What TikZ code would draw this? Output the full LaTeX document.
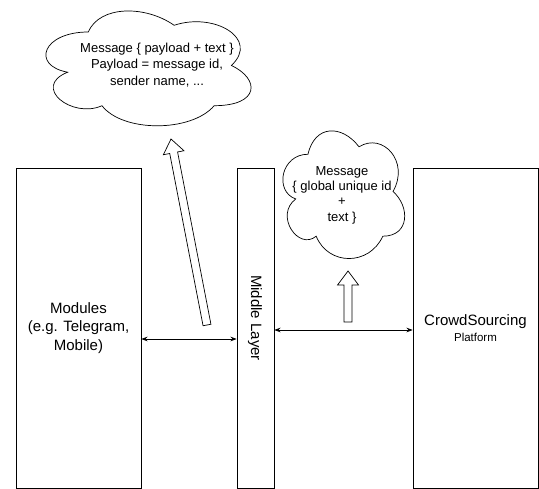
\documentclass[tikz,border=0pt]{standalone}
\usepackage{fontspec}
\setmainfont{Liberation Sans}
\usetikzlibrary{arrows.meta, calc}
\tikzset{
    layer/.style={draw, line width=0.8pt, minimum width=#1, minimum height=320pt, inner sep=0pt, align=center, font=\fontsize{15}{18.3}\selectfont},
    link/.style={Stealth-Stealth, line width=0.7pt},
    outline/.style={line width=0.7pt},
    note/.style={align=center, font=\fontsize{13}{16.5}\selectfont},
    cloudshape/.pic={
        \draw[outline] (0.25,0.25) .. controls (0.05,0.25) and (0,0.5) .. (0.16,0.55)
            .. controls (0,0.66) and (0.18,0.9) .. (0.31,0.8)
            .. controls (0.4,1) and (0.7,1) .. (0.8,0.8)
            .. controls (1,0.8) and (1,0.6) .. (0.875,0.5)
            .. controls (1,0.3) and (0.8,0.1) .. (0.625,0.2)
            .. controls (0.5,0.05) and (0.3,0.05) .. (0.25,0.25) -- cycle;
    }
}
% hollow block arrow from #1 to #2
\newcommand{\hollowarrow}[2]{%
    \coordinate (#1-hb) at ($(#2)!14pt!(#1)$);
    \draw[outline, fill=white] ($(#1)!4pt!90:(#2)$) -- ($(#1-hb)!4pt!90:(#2)$)
        -- ($(#1-hb)!10.5pt!90:(#2)$) -- (#2) -- ($(#1-hb)!10.5pt!-90:(#2)$)
        -- ($(#1-hb)!4pt!-90:(#2)$) -- ($(#1)!4pt!-90:(#2)$) -- cycle;
}

\begin{document}
\begin{tikzpicture}[x=1pt, y=-1pt]
    \useasboundingbox (0,0) rectangle (539,489);

    % the three layers
    \node[layer=125pt] (modules) at (78.5,328) {Modules\\(e.g. Telegram,\\Mobile)};
    \node[layer=37pt] (middle) at (255.5,328) {};
    \node[rotate=-90, font=\fontsize{15}{18}\selectfont] (middlelabel) at (255,318) {Middle Layer};
    \node[layer=125pt] (platform) at (475.5,328) {CrowdSourcing\\[-2.3pt]{\fontsize{11.5}{14}\selectfont Platform}};

    \draw[link] ([yshift=-11pt]modules.east) -- ([yshift=-11pt]middle.west);
    \draw[link] ([yshift=-2pt]middle.east) -- ([yshift=-2pt]platform.west);

    % message clouds
    \begin{scope}[shift={(31,-1.5)}, xscale=229, yscale=134]
        \pic[transform shape] {cloudshape};
    \end{scope}
    \node[note] (payloadnote) at (157,65) {Message \{ payload + text \}\\Payload = message id,\\sender name, ...};

    \begin{scope}[shift={(274,117)}, xscale=136, yscale=149]
        \pic[transform shape] {cloudshape};
    \end{scope}
    \node[note, font=\fontsize{13}{15.3}\selectfont] (idnote) at (342,195) {Message\\\{ global unique id\\+\\text \}};

    % message flow
    \coordinate (bigtail) at (207,325);
    \coordinate (bigtip) at (171,139);
    \hollowarrow{bigtail}{bigtip}
    \coordinate (smalltail) at (348,322);
    \coordinate (smalltip) at (348,271);
    \hollowarrow{smalltail}{smalltip}
\end{tikzpicture}
\end{document}
